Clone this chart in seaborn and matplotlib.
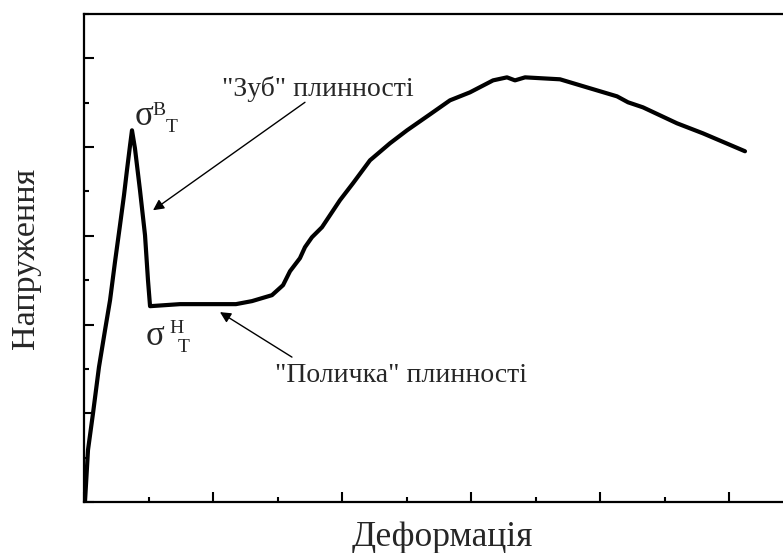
import matplotlib
matplotlib.use("Agg")
import matplotlib.pyplot as plt
import seaborn as sns
import pandas as pd
import numpy as np

# Stress-strain curve with an upper/lower yield point and a yield plateau
strain = [0.008, 0.031, 0.070, 0.116, 0.163, 0.202, 0.240, 0.279, 0.310, 0.333,
          0.357, 0.372, 0.395, 0.434, 0.473, 0.496, 0.512, 0.744, 1.178, 1.302,
          1.457, 1.543, 1.597, 1.674, 1.713, 1.767, 1.845, 1.984, 2.085, 2.217,
          2.372, 2.504, 2.682, 2.837, 2.992, 3.171, 3.279, 3.341, 3.419, 3.690,
          3.899, 4.132, 4.217, 4.333, 4.597, 4.798, 5.124]
stress = [0.011, 0.586, 1.002, 1.520, 1.937, 2.275, 2.703, 3.119, 3.457, 3.739,
          4.020, 4.189, 3.986, 3.514, 3.007, 2.500, 2.207, 2.230, 2.230, 2.264,
          2.331, 2.444, 2.601, 2.748, 2.872, 2.984, 3.097, 3.401, 3.592, 3.851,
          4.043, 4.189, 4.369, 4.527, 4.617, 4.752, 4.786, 4.752, 4.786, 4.764,
          4.673, 4.572, 4.505, 4.448, 4.268, 4.155, 3.953]

x_label = "Деформація"
y_label = "Напруження"
tooth_label = "\"Зуб\" плинності"
plateau_label = "\"Поличка\" плинності"

df = pd.DataFrame({"strain": strain, "stress": stress})

sns.set_style("ticks")
plt.rcParams["font.family"] = ["Liberation Serif", "DejaVu Serif"]

fig = plt.figure(figsize=(7.83, 5.53), dpi=100)
ax = fig.add_axes([84 / 783, 51 / 553, (800 - 84) / 783, 488 / 553])

sns.lineplot(data=df, x="strain", y="stress", ax=ax, color="black",
             linewidth=3.0, sort=False, estimator=None)

ax.set_xlim(0, (800 - 84) / 129)
ax.set_ylim(0, 488 / 88.8)

ax.set_xticks(np.arange(0, 6, 1))
ax.set_xticks(np.arange(0.5, 6, 1), minor=True)
ax.set_yticks(np.arange(0, 6, 1))
ax.set_yticks(np.arange(0.5, 5.6, 1), minor=True)
ax.tick_params(which="both", direction="in", labelbottom=False, labelleft=False,
               width=1.5, color="black")
ax.tick_params(which="major", length=7.5)
ax.tick_params(which="minor", length=3.8)

for side in ["left", "bottom", "top"]:
    ax.spines[side].set_visible(True)
    ax.spines[side].set_linewidth(1.6)
    ax.spines[side].set_color("black")
ax.spines["right"].set_visible(False)

ax.set_xlabel(x_label, fontsize=25.5, labelpad=14)
ax.set_ylabel(y_label, fontsize=24.5, labelpad=31)

# Upper yield point label
ax.text(0.395, 4.25, "σ", fontsize=25, ha="left", va="baseline")
ax.text(0.530, 4.36, "В", fontsize=14, ha="left", va="baseline")
ax.text(0.630, 4.17, "Т", fontsize=14, ha="left", va="baseline")

# Lower yield point label
ax.text(0.480, 1.77, "σ", fontsize=25, ha="left", va="baseline")
ax.text(0.665, 1.90, "Н", fontsize=14, ha="left", va="baseline")
ax.text(0.730, 1.69, "Т", fontsize=14, ha="left", va="baseline")

arrow = dict(arrowstyle="-|>", color="black", lw=1.0, mutation_scale=16,
             shrinkA=0, shrinkB=0)
ax.text(1.814, 4.66, tooth_label, fontsize=20, ha="center", va="center")
ax.annotate("", xy=(0.535, 3.288), xytext=(1.713, 4.505), arrowprops=arrow)

ax.text(2.457, 1.43, plateau_label, fontsize=20, ha="center", va="center")
ax.annotate("", xy=(1.054, 2.140), xytext=(1.612, 1.633), arrowprops=arrow)

fig.savefig("out.png", dpi=100, facecolor="white")
